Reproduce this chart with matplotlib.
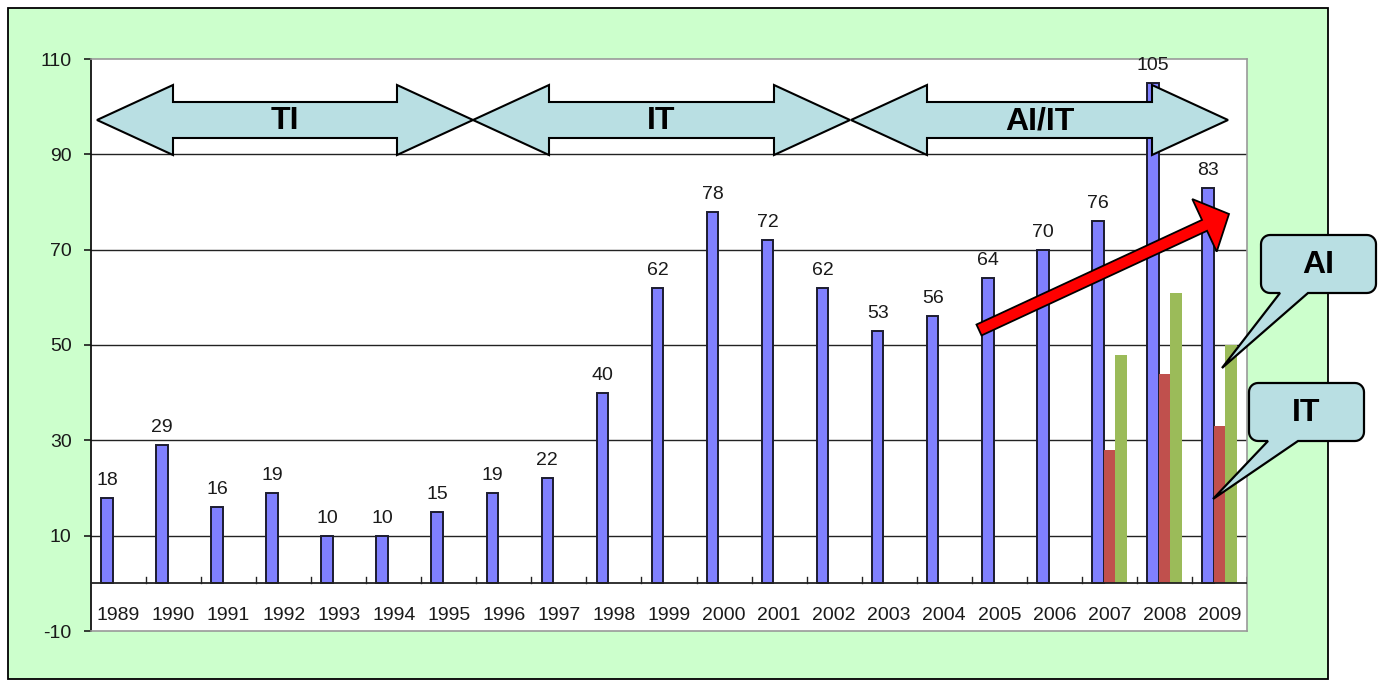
import numpy as np
import matplotlib
matplotlib.use("Agg")
import matplotlib.pyplot as plt
from matplotlib.patches import Rectangle, Polygon

plt.rcParams['font.family'] = ['Liberation Sans', 'DejaVu Sans']
plt.rcParams['axes.unicode_minus'] = False

# ---- data ----
years = list(range(1989, 2010))
total = [18, 29, 16, 19, 10, 10, 15, 19, 22, 40, 62, 78, 72, 62, 53, 56, 64, 70, 76, 105, 83]
split_years = [2007, 2008, 2009]
it_vals = [28, 44, 33]
ai_vals = [48, 61, 50]
y_ticks = [-10, 10, 30, 50, 70, 90, 110]
periods = ["TI", "IT", "AI/IT"]

W, H = 1383, 686
fig = plt.figure(figsize=(W / 100, H / 100), dpi=100)
fig.patch.set_facecolor('white')

# background panel (pixel coordinates)
bg = fig.add_axes([0, 0, 1, 1], zorder=0)
bg.set_xlim(0, W); bg.set_ylim(H, 0); bg.axis('off')
bg.add_patch(Rectangle((8, 8), 1320, 671, facecolor='#CCFFCC', edgecolor='black', lw=1.3))

# main chart
left, right, top, bottom = 91, 1247, 59, 631
ax = fig.add_axes([left / W, (H - bottom) / H, (right - left) / W, (bottom - top) / H], zorder=1)
ax.set_facecolor('white')
ax.set_xlim(-0.5, len(years) - 0.5)
ax.set_ylim(-10, 110)

x = np.arange(len(years))
bw = 0.21
for yv in [10, 30, 50, 70, 90]:
    ax.axhline(yv, color='#222222', lw=1.0, zorder=1)
ax.axhline(0, color='#222222', lw=1.3, zorder=3)
# category separator ticks on the zero line
for k in range(1, len(years) + 1):
    ax.plot([k - 0.5, k - 0.5], [0, 1.3], color='#222222', lw=1.0, zorder=3)

ax.bar(x - bw, total, width=bw, color='#8080FF', edgecolor='#1c1c30', lw=1.4, zorder=2)
sx = np.array([years.index(y) for y in split_years])
ax.bar(sx, it_vals, width=bw, color='#C0504D', edgecolor='none', zorder=2)
ax.bar(sx + bw, ai_vals, width=bw, color='#9BBB59', edgecolor='none', zorder=2)

for xi, v in zip(x, total):
    ax.annotate(str(v), (xi - bw, v), xytext=(0, 6.5), textcoords='offset points',
                ha='center', va='bottom', fontsize=14, color='#1a1a1a', annotation_clip=False)

for xi, yr in zip(x, years):
    ax.text(xi, -6.7, str(yr), ha='center', va='center', fontsize=14, color='#1a1a1a')

ax.set_xticks([])
ax.set_yticks(y_ticks)
ax.tick_params(axis='y', direction='out', length=5, width=1.2, pad=9, labelsize=14,
               colors='#1a1a1a')
for s in ['top', 'right', 'bottom']:
    ax.spines[s].set_color('#999999')
    ax.spines[s].set_linewidth(1.2)
ax.spines['left'].set_color('#111111')
ax.spines['left'].set_linewidth(1.3)

# overlay for arrows and callouts (pixel coordinates)
ov = fig.add_axes([0, 0, 1, 1], zorder=3)
ov.set_xlim(0, W); ov.set_ylim(H, 0); ov.axis('off')
ov.patch.set_visible(False)

arrow_fill = '#B9DFE3'


def double_arrow(xl, xr, yc, head=76, body_half=18, head_half=35):
    pts = [(xl, yc), (xl + head, yc - head_half), (xl + head, yc - body_half),
           (xr - head, yc - body_half), (xr - head, yc - head_half), (xr, yc),
           (xr - head, yc + head_half), (xr - head, yc + body_half),
           (xl + head, yc + body_half), (xl + head, yc + head_half)]
    ov.add_patch(Polygon(pts, closed=True, facecolor=arrow_fill, edgecolor='black',
                         lw=1.5, joinstyle='miter'))


spans = [(97, 473), (473, 850), (851, 1228)]
for (xl, xr), lab in zip(spans, periods):
    double_arrow(xl, xr, 120)
    ov.text((xl + xr) / 2, 121, lab, ha='center', va='center', fontsize=23,
            fontweight='bold', color='black')

# trend arrow
tail = np.array([979.0, 330.0]); tip = np.array([1229.0, 214.0])
d = tip - tail; L = np.hypot(*d); u = d / L; n = np.array([-u[1], u[0]])
shaft_half, head_len, head_half = 6.0, 27.0, 29.0
base = tip - u * head_len
red_pts = [tail + n * shaft_half, base + n * shaft_half, base + n * head_half, tip,
           base - n * head_half, base - n * shaft_half, tail - n * shaft_half]
ov.add_patch(Polygon(red_pts, closed=True, facecolor='#FF0000', edgecolor='black',
                     lw=1.3, joinstyle='miter'))


def callout(x0, y0, x1, y1, t0, t1, tipxy, text, r=9):
    pts = []
    def arc(cx, cy, a0, a1):
        for a in np.linspace(np.radians(a0), np.radians(a1), 8):
            pts.append((cx + r * np.cos(a), cy + r * np.sin(a)))
    # y grows downward in this overlay
    arc(x0 + r, y0 + r, 180, 270)
    arc(x1 - r, y0 + r, 270, 360)
    arc(x1 - r, y1 - r, 0, 90)
    pts.append((t1, y1)); pts.append(tipxy); pts.append((t0, y1))
    arc(x0 + r, y1 - r, 90, 180)
    ov.add_patch(Polygon(pts, closed=True, facecolor=arrow_fill, edgecolor='black',
                         lw=1.6, joinstyle='miter'))
    ov.text((x0 + x1) / 2, (y0 + y1) / 2 + 1, text, ha='center', va='center',
            fontsize=23, fontweight='bold', color='black')


callout(1261, 235, 1376, 293, 1280, 1308, (1222, 368), "AI")
callout(1249, 383, 1364, 441, 1268, 1298, (1213, 499), "IT")

fig.savefig('out.png', dpi=100)
